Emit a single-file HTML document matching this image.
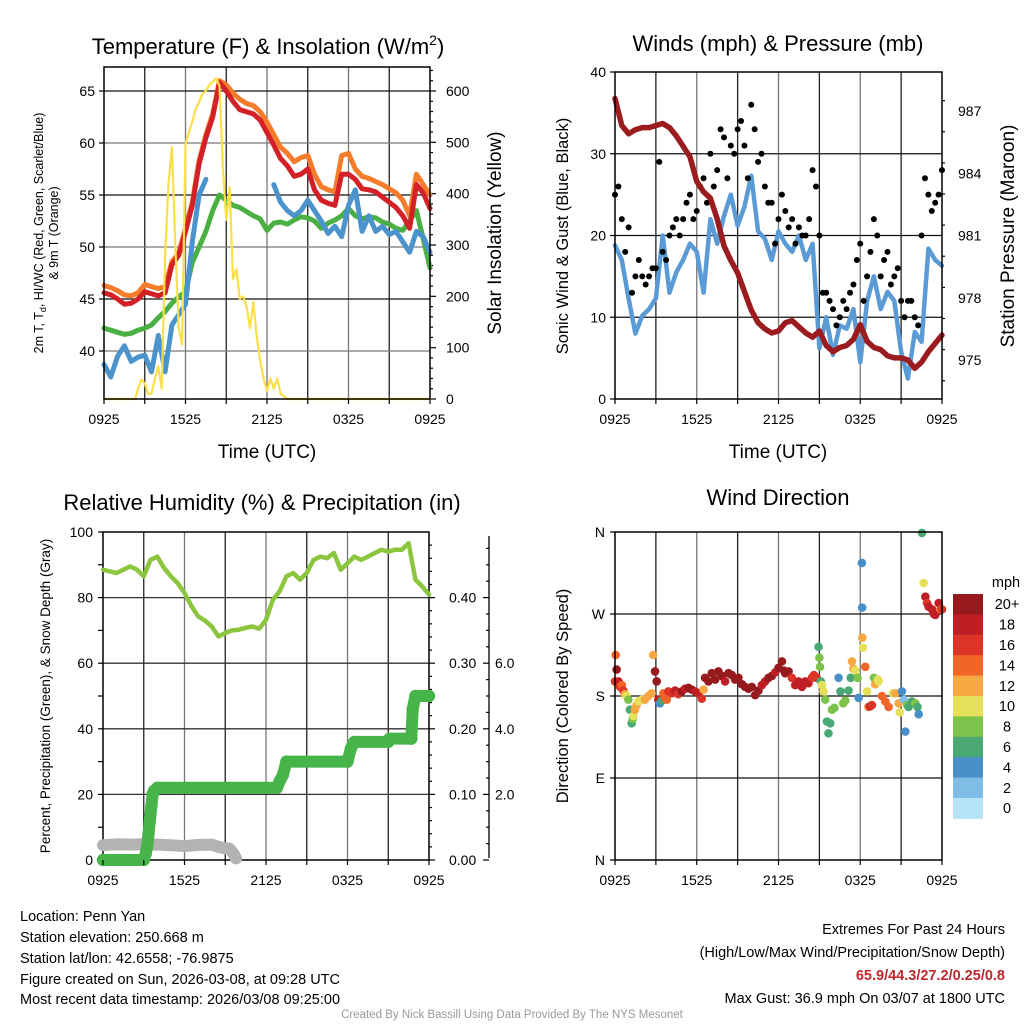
<!DOCTYPE html>
<html><head><meta charset="utf-8"><title>Station Meteogram</title>
<style>
html,body{margin:0;padding:0;background:#fff;}
svg{display:block;font-family:"Liberation Sans",Arial,sans-serif;}
</style></head>
<body>
<svg id="chart" width="1024" height="1024" viewBox="0 0 1024 1024" xmlns="http://www.w3.org/2000/svg">
<rect x="0" y="0" width="1024" height="1024" fill="#fff"/>
<!-- Titles -->
<text x="268" y="54" font-size="22" text-anchor="middle">Temperature (F) &amp; Insolation (W/m<tspan font-size="14" dy="-9">2</tspan><tspan dy="9">)</tspan></text>
<text x="778" y="51" font-size="22" text-anchor="middle">Winds (mph) &amp; Pressure (mb)</text>
<text x="262" y="510" font-size="22" text-anchor="middle">Relative Humidity (%) &amp; Precipitation (in)</text>
<text x="778" y="505" font-size="22" text-anchor="middle">Wind Direction</text>
<!-- Axis titles -->
<text x="267" y="458" font-size="19" text-anchor="middle">Time (UTC)</text>
<text x="778" y="458" font-size="19" text-anchor="middle">Time (UTC)</text>
<text transform="translate(43,233) rotate(-90)" font-size="12.5" text-anchor="middle">2m T, T<tspan font-size="9" dy="3">d</tspan><tspan dy="-3">, HI/WC (Red, Green, Scarlet/Blue)</tspan></text>
<text transform="translate(58,233) rotate(-90)" font-size="12.5" text-anchor="middle">&amp; 9m T (Orange)</text>
<text transform="translate(501,233) rotate(-90)" font-size="19" text-anchor="middle">Solar Insolation (Yellow)</text>
<text transform="translate(568,236) rotate(-90)" font-size="16.5" text-anchor="middle">Sonic Wind &amp; Gust (Blue, Black)</text>
<text transform="translate(1014,236) rotate(-90)" font-size="19" text-anchor="middle">Station Pressure (Maroon)</text>
<text transform="translate(50,696) rotate(-90)" font-size="13.5" text-anchor="middle">Percent, Precipitation (Green), &amp; Snow Depth (Gray)</text>
<text transform="translate(568,696) rotate(-90)" font-size="16.5" text-anchor="middle">Direction (Colored By Speed)</text>
<!-- Footer text -->
<g font-size="14.5">
<text x="20" y="921">Location: Penn Yan</text>
<text x="20" y="942">Station elevation: 250.668 m</text>
<text x="20" y="963">Station lat/lon: 42.6558; -76.9875</text>
<text x="20" y="984">Figure created on Sun, 2026-03-08, at 09:28 UTC</text>
<text x="20" y="1004">Most recent data timestamp: 2026/03/08 09:25:00</text>
</g>
<g font-size="14.5" text-anchor="end">
<text x="1005" y="934">Extremes For Past 24 Hours</text>
<text x="1005" y="957">(High/Low/Max Wind/Precipitation/Snow Depth)</text>
<text x="1005" y="980" fill="#c0272d" font-weight="bold">65.9/44.3/27.2/0.25/0.8</text>
<text x="1005" y="1003">Max Gust: 36.9 mph On 03/07 at 1800 UTC</text>
</g>
<text x="512" y="1018" font-size="11.5" fill="#999" text-anchor="middle">Created By Nick Bassill Using Data Provided By The NYS Mesonet</text>
</svg>
<script>
// ---------- DATA ----------
const timeLabels = ["0925","1525","2125","0325","0925"];
const halfHours = [0,0.5,1,1.5,2,2.5,3,3.5,4,4.5,5,5.5,6,6.5,7,7.5,8,8.5,9,9.5,10,10.5,11,11.5,12,12.5,13,13.5,14,14.5,15,15.5,16,16.5,17,17.5,18,18.5,19,19.5,20,20.5,21,21.5,22,22.5,23,23.5,24];
const tempRed = [45.6,45.4,45.0,44.5,44.6,45.0,45.7,45.5,45.3,45.6,48.3,49.2,51.5,54.0,58.0,60.5,62.5,65.8,65.0,64.0,63.2,63.0,62.8,62.2,61.0,59.8,58.5,57.8,56.8,57.0,57.5,55.5,54.5,54.2,54.0,57.0,57.0,56.5,55.6,55.5,55.3,54.8,54.3,53.8,53.0,51.8,56.0,55.2,53.7];
const tempOrange = [46.3,46.1,45.8,45.4,45.3,45.6,46.4,46.2,46.0,46.2,48.6,49.4,51.8,54.3,58.3,60.8,62.8,66.0,65.6,64.8,64.2,63.8,63.6,63.0,62.0,60.8,59.6,59.0,58.2,58.6,58.8,57.0,55.8,55.5,55.3,58.8,59.0,57.5,56.8,56.6,56.3,56.0,55.6,55.2,54.5,53.0,57.0,56.0,55.0];
const tempGreen = [42.2,42.0,41.8,41.6,41.7,42.0,42.2,42.5,43.2,43.8,44.6,45.2,45.7,48.5,50.0,51.5,53.5,55.0,54.5,54.0,53.8,53.4,53.0,52.7,51.6,52.3,52.4,52.2,52.6,52.9,52.8,52.5,51.8,52.3,52.6,53.0,53.7,53.0,52.7,52.9,52.8,52.4,52.2,51.8,51.6,52.5,53.5,50.8,48.0];
const tempBlue = [38.7,37.5,39.5,40.5,39.0,39.4,39.6,38.0,41.5,38.0,42.5,43.5,44.5,50.5,55.0,56.5,null,null,null,null,null,null,null,null,null,56.0,54.3,53.5,53.0,53.5,54.5,53.5,52.5,51.3,52.0,51.0,54.0,55.5,51.5,53.0,51.5,52.0,51.2,51.5,50.5,49.5,51.5,51.0,49.5];
const solarHours = [0,2.3,2.5,2.75,3,3.25,3.5,3.75,4,4.25,4.5,4.75,5,5.25,5.5,5.75,6,6.25,6.5,6.75,7,7.25,7.5,7.75,8,8.25,8.5,8.75,9,9.25,9.5,9.75,10,10.25,10.5,10.75,11,11.25,11.5,11.75,12,12.25,12.5,12.75,13,13.25,13.5,24];
const solarVals = [0,0,20,38,30,10,10,40,64,20,279,420,490,300,138,106,497,520,540,565,578,595,600,612,618,625,610,450,349,413,234,253,195,200,180,138,189,120,74,40,16,40,20,40,10,5,0,0];
const windSpeed = [18.8,17.0,12.3,8.0,10.2,11.0,12.3,20.0,13.0,15.5,17.0,19.0,18.0,13.0,22.0,19.0,22.4,25.0,21.2,23.5,27.3,20.5,19.6,17.0,20.5,19.0,18.0,20.0,17.0,19.0,6.2,10.0,5.4,9.0,8.6,11.0,4.5,12.0,15.0,11.0,13.1,12.0,5.8,2.5,8.2,7.0,18.4,17.0,16.3];
const gustA = [25,22,21,15,15,15,16,18,20,22,22,25,23,27,30,28,32,31,33,31,36,29,26,24,22,23,22,21,20,28,20,13,11,10,11,14,19,15,22,15,18,15,12,12,10,20,25,24,28];
const gustB = [26,18,13,17,14,16,29,17,21,20,24,22,26,24,26,33,27,30,34,27,33,30,24,19,25,21,19,20,22,26,13,12,9,12,13,17,12,18,20,17,14,16,10,12,9,27,23,25];
const pressure = [987.6,986.3,985.9,986.1,986.2,986.2,986.3,986.4,986.2,985.8,985.3,984.8,983.6,983.1,982.8,981.8,980.5,979.8,979.2,978.3,977.4,976.8,976.5,976.3,976.4,976.8,976.9,976.6,976.3,976.1,976.4,975.7,975.4,975.6,975.7,976.0,976.7,975.9,975.6,975.5,975.2,975.1,975.1,975.0,974.6,974.9,975.4,975.8,976.2];
const humidity = [88.5,88.0,87.5,88.5,89.5,88.5,86.5,91.5,92.5,89.0,86.5,84.4,81.4,77.5,74.3,73.0,71.2,68.2,69.2,70.0,70.2,70.8,71.2,70.5,73.2,79.3,81.9,86.5,87.5,85.5,87.5,91.5,92.5,92.0,93.6,88.5,90.5,92.5,91.5,92.5,93.6,94.6,94.0,94.6,94.6,96.6,85.5,83.4,80.9];
const precipHours = [0,3.0,3.15,3.25,3.35,3.45,3.55,3.65,3.75,4.0,12.8,13.0,13.25,13.5,18.0,18.25,18.5,21.0,21.1,22.7,22.8,23.0,24];
const precipVals = [0,0,0.01,0.02,0.04,0.06,0.08,0.10,0.105,0.11,0.11,0.12,0.13,0.15,0.15,0.17,0.18,0.18,0.185,0.185,0.23,0.25,0.25];
const snowHours = [0,1,2,3,4,5,6,7,8,8.5,9,9.3,9.6,9.8];
const snowVals = [0.45,0.48,0.47,0.48,0.47,0.45,0.42,0.46,0.47,0.40,0.35,0.35,0.20,0.05];
const dirHours = [0,0.05,0.12,0.25,0.37,0.5,0.61,0.73,0.85,0.98,1.1,1.22,1.3,1.35,1.47,1.59,1.71,1.96,2.2,2.45,2.69,2.8,2.94,3.06,3.18,3.3,3.43,3.55,3.67,3.8,3.92,4.16,4.41,4.65,4.9,5.14,5.39,5.63,5.88,6.12,6.37,6.5,6.61,6.86,7.1,7.35,7.59,7.84,8.08,8.33,8.57,8.82,9.06,9.31,9.55,9.8,10.04,10.29,10.53,10.78,11.02,11.27,11.51,11.76,12.0,12.25,12.4,12.49,12.74,12.98,13.23,13.47,13.72,13.96,14.2,14.45,14.6,14.8,14.94,15.0,15.05,15.1,15.18,15.3,15.43,15.55,15.67,15.8,15.92,16.1,16.41,16.55,16.75,16.9,17.14,17.3,17.39,17.5,17.63,17.8,17.88,18.12,18.14,18.15,18.2,18.37,18.5,18.61,18.75,18.86,19.0,19.1,19.3,19.35,19.59,19.84,20.08,20.4,20.57,20.82,20.9,21.06,21.2,21.31,21.45,21.55,21.8,22.04,22.2,22.29,22.53,22.65,22.78,22.9,23.02,23.27,23.4,23.51,23.76,23.9,24.0];
const dirVals = [196,225,209,196,190,192,186,182,180,176,165,150,155,158,165,170,174,176,176,180,183,225,207,196,176,172,175,183,178,176,185,183,186,182,185,188,189,187,185,183,177,187,200,196,205,198,207,202,196,205,203,198,200,193,190,188,190,181,186,192,196,200,202,206,211,218,208,205,207,200,192,196,190,196,194,200,203,200,234,222,212,196,192,185,176,152,139,150,165,167,200,185,172,175,186,200,218,210,208,200,178,326,277,244,233,212,185,168,169,170,200,193,198,196,180,174,168,183,183,172,162,185,176,141,170,168,174,172,168,160,359,304,289,282,278,275,270,269,282,275,275];
const dirSpeeds = [16,14,20,18,16,14,16,12,10,8,6,6,8,10,12,12,10,10,12,12,12,12,20,20,18,4,6,14,14,14,16,16,18,16,20,18,20,20,18,18,16,12,20,20,20,20,20,20,18,20,20,20,20,20,20,20,20,20,20,18,18,20,20,18,20,20,20,20,20,16,18,18,18,18,18,16,16,16,6,8,8,6,10,10,8,6,6,6,8,8,4,6,8,8,6,6,12,12,10,8,4,4,4,12,10,14,10,14,18,16,8,12,10,10,14,14,14,10,12,12,10,4,2,4,8,6,6,8,6,4,6,10,18,16,18,18,18,18,18,14,16];
const speedBinLabels = ["20+","18","16","14","12","10","8","6","4","2","0"];
const speedBinColors = ["#961a1d","#bf1e24","#dc3527","#f26529","#f8a843","#e4e05a","#7cc24b","#4aa874","#4a8fc8","#80bde6","#b6e3f8"];

// ---------- HELPERS ----------
const NS = "http://www.w3.org/2000/svg";
const svg = document.getElementById("chart");
function mk(tag, attrs, parent) {
  const e = document.createElementNS(NS, tag);
  for (const k in attrs) e.setAttribute(k, attrs[k]);
  (parent || svg).appendChild(e);
  return e;
}
function lin(d0, d1, r0, r1) { return v => r0 + (v - d0) * (r1 - r0) / (d1 - d0); }
function segments(xs, ys, fx, fy) {
  const segs = []; let cur = [];
  for (let i = 0; i < xs.length; i++) {
    if (ys[i] === null || ys[i] === undefined) { if (cur.length) segs.push(cur); cur = []; continue; }
    cur.push(fx(xs[i]).toFixed(1) + "," + fy(ys[i]).toFixed(1));
  }
  if (cur.length) segs.push(cur);
  return segs;
}
function drawLine(g, xs, ys, fx, fy, color, w, name) {
  segments(xs, ys, fx, fy).forEach(s => {
    const p = mk("polyline", {points: s.join(" "), fill: "none", stroke: color, "stroke-width": w, "stroke-linejoin": "round", "stroke-linecap": "round"}, g);
    
    
  });
}
function frame(g, x0, y0, x1, y1) {
  const r = mk("rect", {x: x0, y: y0, width: x1 - x0, height: y1 - y0, fill: "none", stroke: "#000", "stroke-width": 1.5}, g);
  
  
}
function vgrid(g, x0, x1, y0, y1) {
  for (let i = 1; i < 8; i++) {
    const x = x0 + (x1 - x0) * i / 8;
    const l = mk("line", {x1: x, x2: x, y1: y0, y2: y1, stroke: i % 2 ? "#222" : "#777", "stroke-width": 1.3}, g);
    
    
  }
}
function hline(g, x0, x1, y, color) {
  const l = mk("line", {x1: x0, x2: x1, y1: y, y2: y, stroke: color, "stroke-width": 1.3}, g);
  
  
}
function tick(g, x1, y1, x2, y2) {
  const l = mk("line", {x1: x1, y1: y1, x2: x2, y2: y2, stroke: "#000", "stroke-width": 1.2}, g);
  
  
}
function label(g, x, y, txt, anchor, name, size) {
  const t = mk("text", {x: x, y: y, "font-size": size || 14, "text-anchor": anchor}, g);
  t.textContent = txt;
  
  
  return t;
}
function xAxis(g, x0, x1, y1) {
  for (let i = 0; i <= 8; i++) tick(g, x0 + (x1 - x0) * i / 8, y1, x0 + (x1 - x0) * i / 8, y1 + 5);
  timeLabels.forEach((t, i) => label(g, x0 + (x1 - x0) * i / 4, y1 + 25, t, "middle", "x-tick-label"));
}

// ---------- PANEL 1: Temperature ----------
(function () {
  const X0 = 104, X1 = 430, Y0 = 67, Y1 = 399;
  const g = mk("g", {});  
  const fx = lin(0, 24, X0, X1), fy = lin(65, 40, 91, 351), fs = lin(0, 600, 399, 91);
  vgrid(g, X0, X1, Y0, Y1);
  [65, 60, 55, 50, 45, 40].forEach((v, i) => {
    hline(g, X0, X1, fy(v), i % 2 ? "#777" : "#111");
    tick(g, X0 - 5, fy(v), X0, fy(v));
    label(g, X0 - 9, fy(v) + 5, String(v), "end", "left-y-tick-label");
  });
  for (let v = 0; v <= 640; v += 20) tick(g, X1, fs(v), X1 + (v % 100 === 0 ? 6 : 3), fs(v));
  [0, 100, 200, 300, 400, 500, 600].forEach(v => label(g, X1 + 16, fs(v) + 5, String(v), "start", "right-y-tick-label"));
  drawLine(g, halfHours, tempOrange, fx, fy, "#f47c2a", 5, "9m-temperature-line");
  drawLine(g, halfHours, tempGreen, fx, fy, "#4bb043", 5, "dewpoint-line");
  drawLine(g, halfHours, tempBlue, fx, fy, "#4b93cc", 5, "wind-chill-line");
  drawLine(g, halfHours, tempRed, fx, fy, "#d42027", 5, "2m-temperature-line");
  drawLine(g, solarHours, solarVals, fx, fs, "#f9e04b", 2.2, "solar-insolation-line");
  frame(g, X0, Y0, X1, Y1);
  xAxis(g, X0, X1, Y1);
})();

// ---------- PANEL 2: Winds & Pressure ----------
(function () {
  const X0 = 615, X1 = 942, Y0 = 72, Y1 = 399;
  const g = mk("g", {});  
  const fx = lin(0, 24, X0, X1), fy = lin(0, 40, 399, 72), fp = lin(975, 987, 360, 111);
  vgrid(g, X0, X1, Y0, Y1);
  [0, 10, 20, 30, 40].forEach(v => {
    if (v > 0 && v < 40) hline(g, X0, X1, fy(v), "#111");
    tick(g, X0 - 5, fy(v), X0, fy(v));
    label(g, X0 - 9, fy(v) + 5, String(v), "end", "wind-tick-label");
  });
  for (let v = 974; v <= 988; v += 1.5) tick(g, X1, fp(v), X1 + ((v - 975) % 3 === 0 ? 6 : 3), fp(v));
  [975, 978, 981, 984, 987].forEach(v => label(g, X1 + 16, fp(v) + 5, String(v), "start", "pressure-tick-label"));
  drawLine(g, halfHours, windSpeed, fx, fy, "#5b9bd5", 4.5, "sustained-wind-line");
  gustA.forEach((v, i) => {
    const c = mk("circle", {cx: fx(halfHours[i]), cy: fy(v), r: 3, fill: "#000"}, g);
    
    
  });
  gustB.forEach((v, i) => {
    const c = mk("circle", {cx: fx(halfHours[i] + 0.25), cy: fy(v), r: 3, fill: "#000"}, g);
    
    
  });
  drawLine(g, halfHours, pressure, fx, fp, "#9b1c1f", 5.5, "pressure-line");
  frame(g, X0, Y0, X1, Y1);
  xAxis(g, X0, X1, Y1);
})();

// ---------- PANEL 3: Humidity & Precip ----------
(function () {
  const X0 = 103, X1 = 429, Y0 = 532, Y1 = 860;
  const g = mk("g", {});  
  const fx = lin(0, 24, X0, X1), fy = lin(0, 100, Y1, Y0), fpr = lin(0, 0.5, Y1, Y0), fsn = lin(0, 10, Y1, Y0);
  vgrid(g, X0, X1, Y0, Y1);
  [0, 20, 40, 60, 80, 100].forEach(v => {
    if (v > 0 && v < 100) hline(g, X0, X1, fy(v), "#333");
    label(g, X0 - 10, fy(v) + 5, String(v), "end", "humidity-tick-label");
  });
  for (let v = 0; v <= 100; v += 10) tick(g, X0 - 5, fy(v), X0, fy(v));
  for (let v = 0; v <= 0.5; v += 0.02) tick(g, X1, fpr(v), X1 + (Math.round(v * 100) % 10 === 0 ? 6 : 3), fpr(v));
  ["0.00", "0.10", "0.20", "0.30", "0.40"].forEach(t => label(g, X1 + 20, fpr(parseFloat(t)) + 5, t, "start", "precip-tick-label"));
  const SX = 489;
  const ax = mk("line", {x1: SX, x2: SX, y1: Y0 + 4, y2: Y1 - 2, stroke: "#000", "stroke-width": 1.3}, g);
  
  
  for (let v = 0; v <= 9.5; v += 0.5) tick(g, SX - (v % 2 === 0 ? 6 : 3), fsn(v), SX, fsn(v));
  ["2.0", "4.0", "6.0"].forEach(t => label(g, SX + 6, fsn(parseFloat(t)) + 5, t, "start", "snow-tick-label"));
  frame(g, X0, Y0, X1, Y1);
  drawLine(g, snowHours, snowVals, fx, fsn, "#b3b3b3", 12, "snow-depth-line");
  drawLine(g, precipHours, precipVals, fx, fpr, "#46b448", 12, "precipitation-line");
  precipHours.forEach((h, i) => {
    const c = mk("circle", {cx: fx(h), cy: fpr(precipVals[i]), r: 6.2, fill: "#46b448"}, g);
    
    
  });
  drawLine(g, halfHours, humidity, fx, fy, "#8cc63f", 4.5, "relative-humidity-line");
  xAxis(g, X0, X1, Y1);
})();

// ---------- PANEL 4: Wind Direction ----------
(function () {
  const X0 = 615, X1 = 942, Y0 = 532, Y1 = 860;
  const g = mk("g", {});  
  const fx = lin(0, 24, X0, X1), fy = lin(0, 360, Y1, Y0);
  vgrid(g, X0, X1, Y0, Y1);
  ["N", "E", "S", "W", "N"].forEach((t, i) => {
    const v = i * 90;
    if (i > 0 && i < 4) hline(g, X0, X1, fy(v), "#111");
    tick(g, X0 - 5, fy(v), X0, fy(v));
    label(g, X0 - 10, fy(v) + 5, t, "end", "direction-tick-label");
  });
  dirHours.forEach((h, i) => {
    const bin = Math.min(10, Math.floor(dirSpeeds[i] / 2));
    const c = mk("circle", {cx: fx(h), cy: fy(dirVals[i]), r: 4.3, fill: speedBinColors[10 - bin]}, g);
    
    
  });
  frame(g, X0, Y0, X1, Y1);
  xAxis(g, X0, X1, Y1);
  // colorbar
  const cb = mk("g", {});  
  const CY0 = 594, CH = 20.4;
  speedBinLabels.forEach((t, i) => {
    const r = mk("rect", {x: 953, y: CY0 + i * CH, width: 30, height: CH + 0.5, fill: speedBinColors[i]}, cb);
    
    
    label(cb, 1007, CY0 + i * CH + CH / 2 + 5, t, "middle", "colorbar-label", 14.5);
  });
  label(cb, 1006, 587, "mph", "middle", "colorbar-title", 14.5);
})();
</script>
</body></html>
